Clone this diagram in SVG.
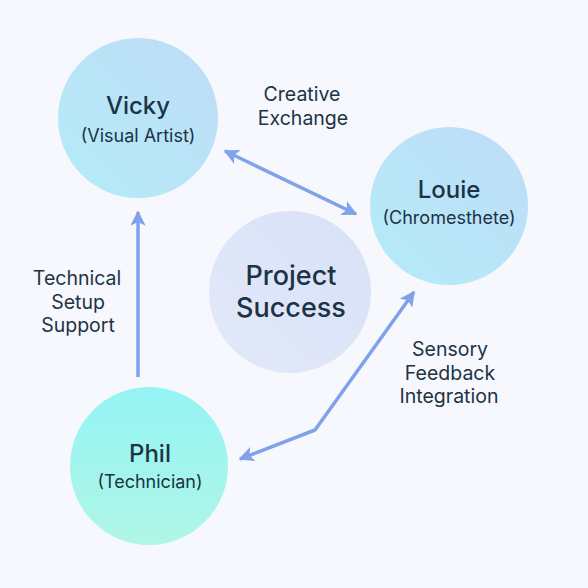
<svg xmlns="http://www.w3.org/2000/svg" width="588" height="588" viewBox="0 0 588 588">
<defs>
<linearGradient id="gBlue" x1="0" y1="1" x2="1" y2="0">
<stop offset="0" stop-color="#b4ecf8"/>
<stop offset="1" stop-color="#bfdcf7"/>
</linearGradient>
<linearGradient id="gCenter" x1="0" y1="1" x2="1" y2="0">
<stop offset="0" stop-color="#e2e9f9"/>
<stop offset="1" stop-color="#d9e1f8"/>
</linearGradient>
<linearGradient id="gPhil" x1="0" y1="0" x2="0" y2="1">
<stop offset="0" stop-color="#94f4f4"/>
<stop offset="1" stop-color="#b0f6e6"/>
</linearGradient>
<marker id="ah" viewBox="0 0 10 10" refX="9" refY="5" markerWidth="4.4" markerHeight="4.4" orient="auto-start-reverse" markerUnits="strokeWidth">
<path d="M0,0 L10,5 L0,10 L2.5,5 Z" fill="#7fa2ea"/>
</marker>
<style>
.name{font-family:Inter,"Liberation Sans",sans-serif;font-size:24px;font-weight:500;fill:#1c3346;text-anchor:middle}
.role{font-family:Inter,"Liberation Sans",sans-serif;font-size:18px;fill:#1c3346;text-anchor:middle}
.big{font-family:Inter,"Liberation Sans",sans-serif;font-size:27px;font-weight:500;fill:#1c3346;text-anchor:middle}
.lbl{font-family:Inter,"Liberation Sans",sans-serif;font-size:19.5px;fill:#1c3346;text-anchor:middle}
.conn{fill:none;stroke:#7fa2ea;stroke-width:3.5;stroke-linejoin:round}
</style>
</defs>
<rect width="588" height="588" fill="#f6f8fd"/>
<g id="connectors">
<line class="conn" x1="225" y1="151" x2="356" y2="214" marker-start="url(#ah)" marker-end="url(#ah)"/>
<line class="conn" x1="138" y1="377" x2="138" y2="212" marker-end="url(#ah)"/>
<polyline class="conn" points="240,459 315,430 414,292" marker-start="url(#ah)" marker-end="url(#ah)"/>
</g>
<g id="vicky">
<circle cx="138" cy="118" r="80" fill="url(#gBlue)"/>
<text class="name" x="138" y="114">Vicky</text>
<text class="role" x="138" y="142">(Visual Artist)</text>
</g>
<g id="louie">
<circle cx="449" cy="206" r="79" fill="url(#gBlue)"/>
<text class="name" x="449" y="198">Louie</text>
<text class="role" x="449" y="224">(Chromesthete)</text>
</g>
<g id="project">
<circle cx="290" cy="292" r="81" fill="url(#gCenter)"/>
<text class="big" x="291" y="285">Project</text>
<text class="big" x="291" y="317">Success</text>
</g>
<g id="phil">
<circle cx="149" cy="466" r="79" fill="url(#gPhil)"/>
<text class="name" x="150" y="462">Phil</text>
<text class="role" x="150" y="488">(Technician)</text>
</g>
<g id="labels">
<text class="lbl" x="302" y="101">Creative</text>
<text class="lbl" x="303" y="125">Exchange</text>
<text class="lbl" x="77" y="285">Technical</text>
<text class="lbl" x="78" y="309">Setup</text>
<text class="lbl" x="78" y="332">Support</text>
<text class="lbl" x="450" y="356">Sensory</text>
<text class="lbl" x="450" y="380">Feedback</text>
<text class="lbl" x="449" y="403">Integration</text>
</g>
</svg>
